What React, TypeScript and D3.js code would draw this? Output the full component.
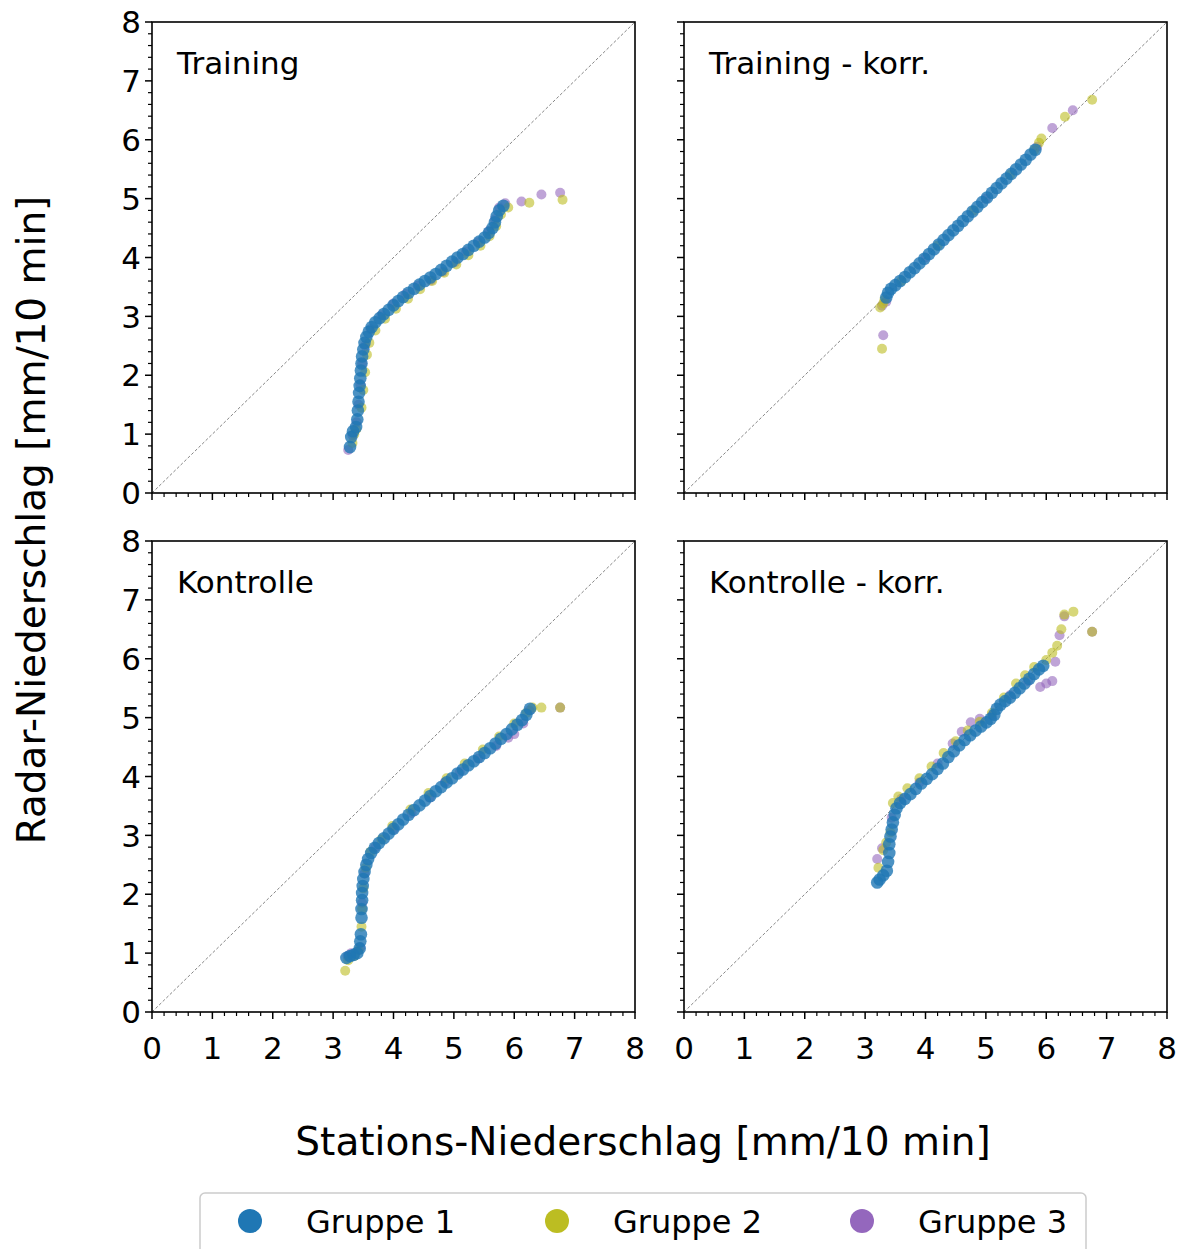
import React from "react";
import * as d3 from "d3";

const groupNames = ["Gruppe 1", "Gruppe 2", "Gruppe 3"];
const groupColors = ["#1f77b4", "#bcbd22", "#9467bd"];
const panelTitles = ["Training", "Training - korr.", "Kontrolle", "Kontrolle - korr."];
const tickValues = [0, 1, 2, 3, 4, 5, 6, 7, 8];
const xLabel = "Stations-Niederschlag [mm/10 min]";
const yLabel = "Radar-Niederschlag [mm/10 min]";

// Training
const trainG1 = [[3.28,0.78],[3.30,0.95],[3.33,1.05],[3.38,1.12],[3.40,1.25],[3.41,1.40],[3.42,1.55],[3.43,1.70],[3.44,1.82],[3.45,1.95],[3.46,2.08],[3.47,2.20],[3.48,2.32],[3.50,2.44],[3.52,2.55],[3.55,2.65],[3.59,2.74],[3.64,2.82],[3.70,2.90],[3.77,2.97],[3.84,3.04],[3.92,3.11],[4.00,3.19],[4.08,3.26],[4.16,3.33],[4.25,3.40],[4.34,3.47],[4.43,3.54],[4.52,3.60],[4.61,3.66],[4.70,3.72],[4.79,3.79],[4.88,3.86],[4.97,3.93],[5.06,4.00],[5.15,4.06],[5.24,4.13],[5.33,4.20],[5.42,4.27],[5.51,4.34],[5.58,4.42],[5.64,4.50],[5.68,4.60],[5.71,4.70],[5.75,4.80],[5.82,4.88]];
const trainG2 = [[3.32,0.85],[3.35,1.00],[3.38,1.08],[3.47,1.45],[3.50,1.75],[3.53,2.05],[3.56,2.35],[3.60,2.55],[3.70,2.76],[3.86,2.96],[4.04,3.13],[4.24,3.30],[4.44,3.46],[4.64,3.60],[4.84,3.74],[5.04,3.88],[5.24,4.04],[5.44,4.20],[5.59,4.36],[5.70,4.53],[5.78,4.73],[5.90,4.85],[6.25,4.93],[6.80,4.98]];
const trainG3 = [[3.25,0.73],[3.32,0.98],[3.39,1.20],[3.42,1.50],[3.45,1.85],[3.48,2.20],[3.53,2.50],[3.62,2.78],[3.80,3.02],[4.00,3.22],[4.20,3.38],[4.40,3.52],[4.62,3.61],[4.82,3.76],[5.02,3.92],[5.20,4.10],[5.40,4.26],[5.58,4.45],[5.68,4.65],[5.75,4.85],[5.85,4.92],[6.12,4.95],[6.45,5.07],[6.76,5.10]];

// Training - korr.
const trainKorrG1 = [[3.35,3.32],[3.38,3.40],[3.43,3.47],[3.50,3.53],[3.58,3.60],[3.66,3.67],[3.74,3.75],[3.82,3.82],[3.90,3.90],[3.98,3.98],[4.06,4.06],[4.14,4.14],[4.22,4.22],[4.30,4.30],[4.38,4.38],[4.46,4.46],[4.54,4.54],[4.62,4.62],[4.70,4.70],[4.78,4.78],[4.86,4.86],[4.94,4.94],[5.02,5.02],[5.10,5.10],[5.18,5.18],[5.26,5.26],[5.34,5.34],[5.42,5.42],[5.50,5.50],[5.58,5.58],[5.66,5.66],[5.74,5.75],[5.82,5.83]];
const trainKorrG2 = [[3.28,2.45],[3.25,3.15],[3.30,3.22],[3.32,3.28],[3.60,3.60],[4.20,4.20],[4.80,4.80],[5.40,5.40],[5.80,5.82],[5.88,5.95],[5.92,6.02],[6.31,6.39],[6.76,6.68]];
const trainKorrG3 = [[3.30,2.68],[3.28,3.18],[3.35,3.25],[4.00,4.00],[5.00,5.00],[5.85,5.88],[6.10,6.20],[6.44,6.50]];

// Kontrolle
const ctrlG1 = [[3.22,0.92],[3.28,0.95],[3.34,0.97],[3.40,1.00],[3.44,1.08],[3.45,1.20],[3.46,1.32],[3.47,1.60],[3.47,1.75],[3.48,1.90],[3.48,2.02],[3.49,2.14],[3.50,2.26],[3.52,2.38],[3.55,2.50],[3.58,2.60],[3.63,2.70],[3.69,2.79],[3.76,2.87],[3.84,2.95],[3.92,3.03],[4.00,3.11],[4.08,3.19],[4.16,3.27],[4.25,3.35],[4.34,3.43],[4.43,3.51],[4.52,3.59],[4.61,3.67],[4.70,3.75],[4.79,3.82],[4.88,3.90],[4.97,3.97],[5.06,4.05],[5.15,4.12],[5.24,4.19],[5.33,4.26],[5.42,4.33],[5.51,4.40],[5.60,4.48],[5.69,4.56],[5.78,4.64],[5.87,4.72],[5.96,4.80],[6.05,4.88],[6.13,4.96],[6.20,5.05],[6.26,5.15]];
const ctrlG2 = [[3.20,0.70],[3.25,0.88],[3.35,0.95],[3.42,1.05],[3.47,1.45],[3.48,1.75],[3.50,2.10],[3.54,2.45],[3.62,2.72],[3.80,2.93],[3.98,3.16],[4.28,3.44],[4.58,3.72],[4.88,3.97],[5.18,4.22],[5.48,4.46],[5.75,4.68],[6.00,4.90],[6.20,5.08],[6.30,5.17],[6.45,5.17],[6.76,5.17]];
const ctrlG3 = [[3.24,0.95],[3.30,1.00],[3.45,1.10],[3.48,1.85],[3.52,2.35],[3.70,2.80],[4.00,3.10],[4.30,3.38],[4.60,3.64],[4.85,3.90],[5.10,4.08],[5.40,4.30],[5.70,4.52],[5.90,4.66],[6.00,4.72],[6.15,4.90],[6.25,5.12],[6.76,5.17]];

// Kontrolle - korr.
const ctrlKorrG1 = [[3.20,2.20],[3.24,2.25],[3.30,2.32],[3.36,2.40],[3.38,2.55],[3.40,2.70],[3.40,2.85],[3.42,2.98],[3.44,3.10],[3.46,3.22],[3.49,3.35],[3.52,3.46],[3.58,3.55],[3.66,3.62],[3.75,3.70],[3.84,3.79],[3.93,3.88],[4.02,3.96],[4.11,4.04],[4.20,4.13],[4.29,4.22],[4.38,4.33],[4.47,4.43],[4.56,4.53],[4.65,4.62],[4.74,4.70],[4.83,4.78],[4.92,4.85],[5.01,4.92],[5.08,4.98],[5.14,5.05],[5.18,5.15],[5.24,5.22],[5.32,5.28],[5.40,5.34],[5.48,5.42],[5.56,5.50],[5.64,5.58],[5.72,5.66],[5.80,5.74],[5.88,5.82],[5.95,5.88]];
const ctrlKorrG2 = [[3.22,2.45],[3.30,2.75],[3.35,2.88],[3.42,3.05],[3.46,3.55],[3.55,3.66],[3.70,3.80],[3.90,3.97],[4.10,4.17],[4.30,4.40],[4.50,4.60],[4.70,4.78],[4.90,4.93],[5.10,5.08],[5.30,5.34],[5.50,5.58],[5.65,5.72],[5.80,5.86],[6.00,5.98],[6.10,6.10],[6.18,6.22],[6.25,6.50],[6.30,6.75],[6.45,6.80],[6.76,6.46]];
const ctrlKorrG3 = [[3.20,2.60],[3.28,2.78],[3.44,3.30],[3.60,3.62],[3.90,3.90],[4.20,4.22],[4.45,4.56],[4.60,4.76],[4.75,4.92],[4.90,4.98],[5.10,5.04],[5.40,5.38],[5.70,5.62],[5.90,5.52],[6.00,5.58],[6.10,5.62],[6.15,5.95],[6.22,6.40],[6.30,6.72],[6.76,6.46]];

const panelData = [
  [trainG1, trainG2, trainG3],
  [trainKorrG1, trainKorrG2, trainKorrG3],
  [ctrlG1, ctrlG2, ctrlG3],
  [ctrlKorrG1, ctrlKorrG2, ctrlKorrG3],
];

const W = 1190, H = 1249;
const panelLeft = [152, 684];
const panelTop = [22, 541];
const pw = 483, ph = 471;
const font = "DejaVu Sans, sans-serif";
const markerR = [6.3, 5, 5];
const markerOpacity = [0.8, 0.6, 0.6];

function Panel({ idx }: { idx: number }) {
  const col = idx % 2, row = Math.floor(idx / 2);
  const x0 = panelLeft[col], y0 = panelTop[row];
  const x = d3.scaleLinear().domain([0, 8]).range([x0, x0 + pw]);
  const y = d3.scaleLinear().domain([0, 8]).range([y0 + ph, y0]);
  const minor = d3.range(0, 8.001, 0.2).filter((v) => Math.abs(v - Math.round(v)) > 1e-6);
  const groups = panelData[idx];
  const order = [2, 1, 0];
  return (
    <g>
      <line x1={x(0)} y1={y(0)} x2={x(8)} y2={y(8)} stroke="#777" strokeWidth={0.9} strokeDasharray="3,2" />
      {order.map((g) => (
        <g key={g}>
          {groups[g].map((p, i) => (
            <circle key={i} cx={x(p[0])} cy={y(p[1])} r={markerR[g]} fill={groupColors[g]} fillOpacity={markerOpacity[g]} />
          ))}
        </g>
      ))}
      <rect x={x0} y={y0} width={pw} height={ph} fill="none" stroke="#000" strokeWidth={1.6} />
      {tickValues.map((t) => (
        <g key={"mx" + t}>
          <line x1={x(t)} x2={x(t)} y1={y0 + ph} y2={y0 + ph + 7} stroke="#000" strokeWidth={1.5} />
          <line x1={x0} x2={x0 - 7} y1={y(t)} y2={y(t)} stroke="#000" strokeWidth={1.5} />
        </g>
      ))}
      {minor.map((t) => (
        <g key={"mn" + t.toFixed(1)}>
          <line x1={x(t)} x2={x(t)} y1={y0 + ph} y2={y0 + ph + 4} stroke="#000" strokeWidth={1.2} />
          <line x1={x0} x2={x0 - 4} y1={y(t)} y2={y(t)} stroke="#000" strokeWidth={1.2} />
        </g>
      ))}
      {col === 0 &&
        tickValues.map((t) => (
          <text key={"yl" + t} x={x0 - 11} y={y(t)} dy="0.36em" textAnchor="end" fontSize={31} fontFamily={font}>
            {t}
          </text>
        ))}
      {row === 1 &&
        tickValues.map((t) => (
          <text key={"xl" + t} x={x(t)} y={y0 + ph + 47} textAnchor="middle" fontSize={31} fontFamily={font}>
            {t}
          </text>
        ))}
      <text x={x0 + 25} y={y0 + 52} fontSize={31} fontFamily={font}>
        {panelTitles[idx]}
      </text>
    </g>
  );
}

export default function App() {
  const legendX = [250, 557, 862];
  return (
    <div style={{ position: "absolute", left: 0, top: 0 }}>
      <svg width={W} height={H} style={{ display: "block", background: "#fff" }}>
        {[0, 1, 2, 3].map((i) => (
          <Panel key={i} idx={i} />
        ))}
        <text x={643} y={1155} textAnchor="middle" fontSize={39} fontFamily={font}>
          {xLabel}
        </text>
        <text transform="translate(45,520) rotate(-90)" textAnchor="middle" fontSize={39} fontFamily={font}>
          {yLabel}
        </text>
        <rect x={200} y={1193} width={886} height={70} rx={5} fill="#fff" stroke="#ccc" strokeWidth={1.5} />
        {groupNames.map((n, i) => (
          <g key={n}>
            <circle cx={legendX[i]} cy={1221} r={12} fill={groupColors[i]} />
            <text x={legendX[i] + 56} y={1221} dy="0.36em" fontSize={32} fontFamily={font}>
              {n}
            </text>
          </g>
        ))}
      </svg>
    </div>
  );
}
